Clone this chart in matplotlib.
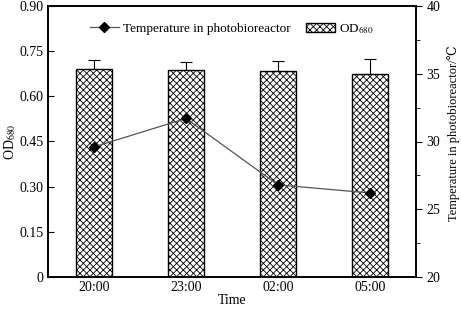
import matplotlib
matplotlib.use("Agg")
import matplotlib.pyplot as plt
import numpy as np

plt.rcParams['font.family'] = ['Liberation Serif', 'DejaVu Serif']
plt.rcParams['font.size'] = 10
plt.rcParams['hatch.linewidth'] = 0.6
plt.rcParams['mathtext.fontset'] = 'stix'

times = ['20:00', '23:00', '02:00', '05:00']
od680 = [0.691, 0.688, 0.683, 0.674]
od_err = [0.029, 0.027, 0.034, 0.050]
temperature = [29.6, 31.7, 26.8, 26.2]

fig = plt.figure(figsize=(4.61, 3.11), dpi=100)
ax = fig.add_axes([48/461, 34/311, 368/461, 271/311])
x = np.arange(len(times))

bars = ax.bar(x, od680, width=0.4, color='white', edgecolor='black',
              hatch='xxxxx', linewidth=1.0, label='OD$_{680}$', zorder=2)
ax.errorbar(x, od680, yerr=[np.zeros(len(x)), od_err], fmt='none',
            ecolor='black', elinewidth=0.8, capsize=4, capthick=0.8, zorder=1)
ax.set_xlim(-0.5, 3.5)
ax.set_ylim(0, 0.9)
ax.set_yticks([0, 0.15, 0.30, 0.45, 0.60, 0.75, 0.90])
ax.set_yticklabels(['0', '0.15', '0.30', '0.45', '0.60', '0.75', '0.90'])
ax.set_xticks(x)
ax.set_xticklabels(times)
ax.tick_params(axis='y', direction='in', length=4)
ax.tick_params(axis='x', length=0, pad=3)
ax.set_xlabel('Time', labelpad=0)
ax.set_ylabel('OD$_{680}$', labelpad=1)

ax2 = ax.twinx()
ln, = ax2.plot(x, temperature, color='#555555', linewidth=0.9, marker='D',
               markersize=5.5, markerfacecolor='black', markeredgecolor='black',
               label='Temperature in photobioreactor')
ax2.set_ylim(20, 40)
ax2.set_yticks([20, 25, 30, 35, 40])
ax2.set_yticks([22.5, 27.5, 32.5, 37.5], minor=True)
ax2.tick_params(axis='y', which='major', direction='out', length=4)
ax2.tick_params(axis='y', which='minor', direction='out', length=3)
ax2.set_ylabel('Temperature in photobioreactor/\u2103', fontsize=9)
ax2.yaxis.set_label_coords(1.084, 0.53)

for a in (ax, ax2):
    for s in a.spines.values():
        s.set_linewidth(1.2)

leg = ax2.legend([ln, bars], ['Temperature in photobioreactor', 'OD$_{680}$'],
                 loc='upper center', bbox_to_anchor=(0.5, 0.985), ncol=2,
                 frameon=False, handlelength=2.2, columnspacing=1.2,
                 handletextpad=0.3, fontsize=9.5)

fig.savefig('out.png', dpi=100)
